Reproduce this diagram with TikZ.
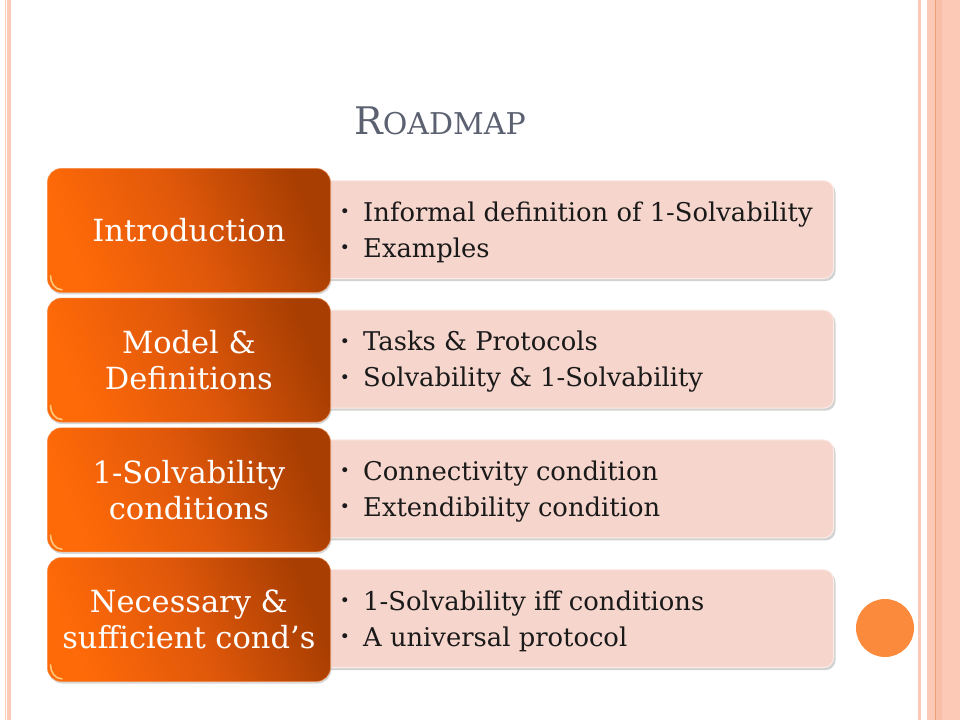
\documentclass[tikz,border=0pt]{standalone}
\usepackage{fontspec}
\setmainfont{DejaVu Serif}
\usetikzlibrary{shadows}
\definecolor{pinkbar}{HTML}{FBC9B5}
\definecolor{pinkbarB}{HTML}{F9BFA8}
\definecolor{orline}{HTML}{F0A070}
\definecolor{titlec}{HTML}{5B6170}
\definecolor{orA}{HTML}{FF6A08}
\definecolor{orB}{HTML}{E0580A}
\definecolor{orC}{HTML}{A83E02}
\definecolor{orrim}{HTML}{F48A48}
\definecolor{orhl}{HTML}{FFD890}
\definecolor{pinkbox}{HTML}{F6D5CC}
\definecolor{circ}{HTML}{FB8A3C}
\definecolor{txt}{HTML}{1A1A1A}
\begin{document}
\begin{tikzpicture}[x=1pt,y=-1pt,
  obox/.style={rounded corners=14pt, minimum width=283pt, minimum height=124pt,
    anchor=north west, inner sep=0pt, left color=orA, right color=orC, middle color=orB,
    shading angle=112, draw=orrim, draw opacity=.55, line width=0.8pt, text=white, align=center,
    font=\fontsize{30.5}{36}\selectfont,
    drop shadow={shadow xshift=1pt, shadow yshift=-2pt, opacity=.3}},
  pbox/.style={rounded corners=10pt, minimum width=515pt, minimum height=98pt,
    anchor=north west, inner sep=0pt, fill=pinkbox, draw=white!55!pinkbox, line width=1pt,
    drop shadow={shadow xshift=2pt, shadow yshift=-2.5pt, opacity=.35}},
  hl/.style={draw=orhl, line width=1.6pt, line cap=round, opacity=.85},
  bul/.style={anchor=center, inner sep=0pt, text=txt, font=\fontsize{17}{17}\selectfont},
  itm/.style={anchor=base west, inner sep=0pt, text=txt, font=\fontsize{25.8}{25.8}\selectfont},
  stripe/.style={fill=pinkbar, draw=none}
]
\useasboundingbox (0,0) rectangle (960,720);
\fill[white] (0,0) rectangle (960,720);
% side stripes
\fill[stripe] (5,0) rectangle (11,720);
\fill[white] (6.2,0) rectangle (7.4,720);
\fill[stripe] (918,0) rectangle (921,720);
\fill[stripe] (927,0) rectangle (960,720);
\fill[pinkbarB] (936,0) rectangle (942,720);
\fill[orline] (935,0) rectangle (936.3,720);
% title
\node[anchor=base, inner sep=0pt, text=titlec] (title) at (440,134)
  {\fontsize{38}{38}\selectfont R\fontsize{30}{30}\selectfont OADMAP};
% pink boxes
\foreach \i in {0,1,2,3} {
  \node[pbox] (p\i) at (318,{180+129.7*\i}) {};
}
% orange boxes
\node[obox] (o0) at (47,168) {Introduction};
\node[obox] (o1) at (47,297.7) {Model \&\\Definitions};
\node[obox] (o2) at (47,427.4) {1-Solvability\\conditions};
\node[obox] (o3) at (47,557.1) {Necessary \&\\sufficient cond’s};
\foreach \i in {0,1,2,3} {
  \draw[hl] ([shift={(3.5,-17)}]o\i.south west) to[out=-90,in=180] ([shift={(15,-3)}]o\i.south west);
}
% items
\foreach \i/\a/\b in {0/Informal definition of 1-Solvability/Examples,
  1/Tasks \& Protocols/Solvability \& 1-Solvability,
  2/Connectivity condition/Extendibility condition,
  3/1-Solvability iff conditions/A universal protocol} {
  \node[bul] (ba\i) at (345,{213+129.7*\i}) {•};
  \node[itm] (ta\i) at (363,{221+129.7*\i}) {\a};
  \node[bul] (bb\i) at (345,{249+129.7*\i}) {•};
  \node[itm] (tb\i) at (363,{257+129.7*\i}) {\b};
}
% dot
\node[circle, fill=circ, minimum size=58pt, inner sep=0pt] (dot) at (885,628) {};
\end{tikzpicture}
\end{document}
